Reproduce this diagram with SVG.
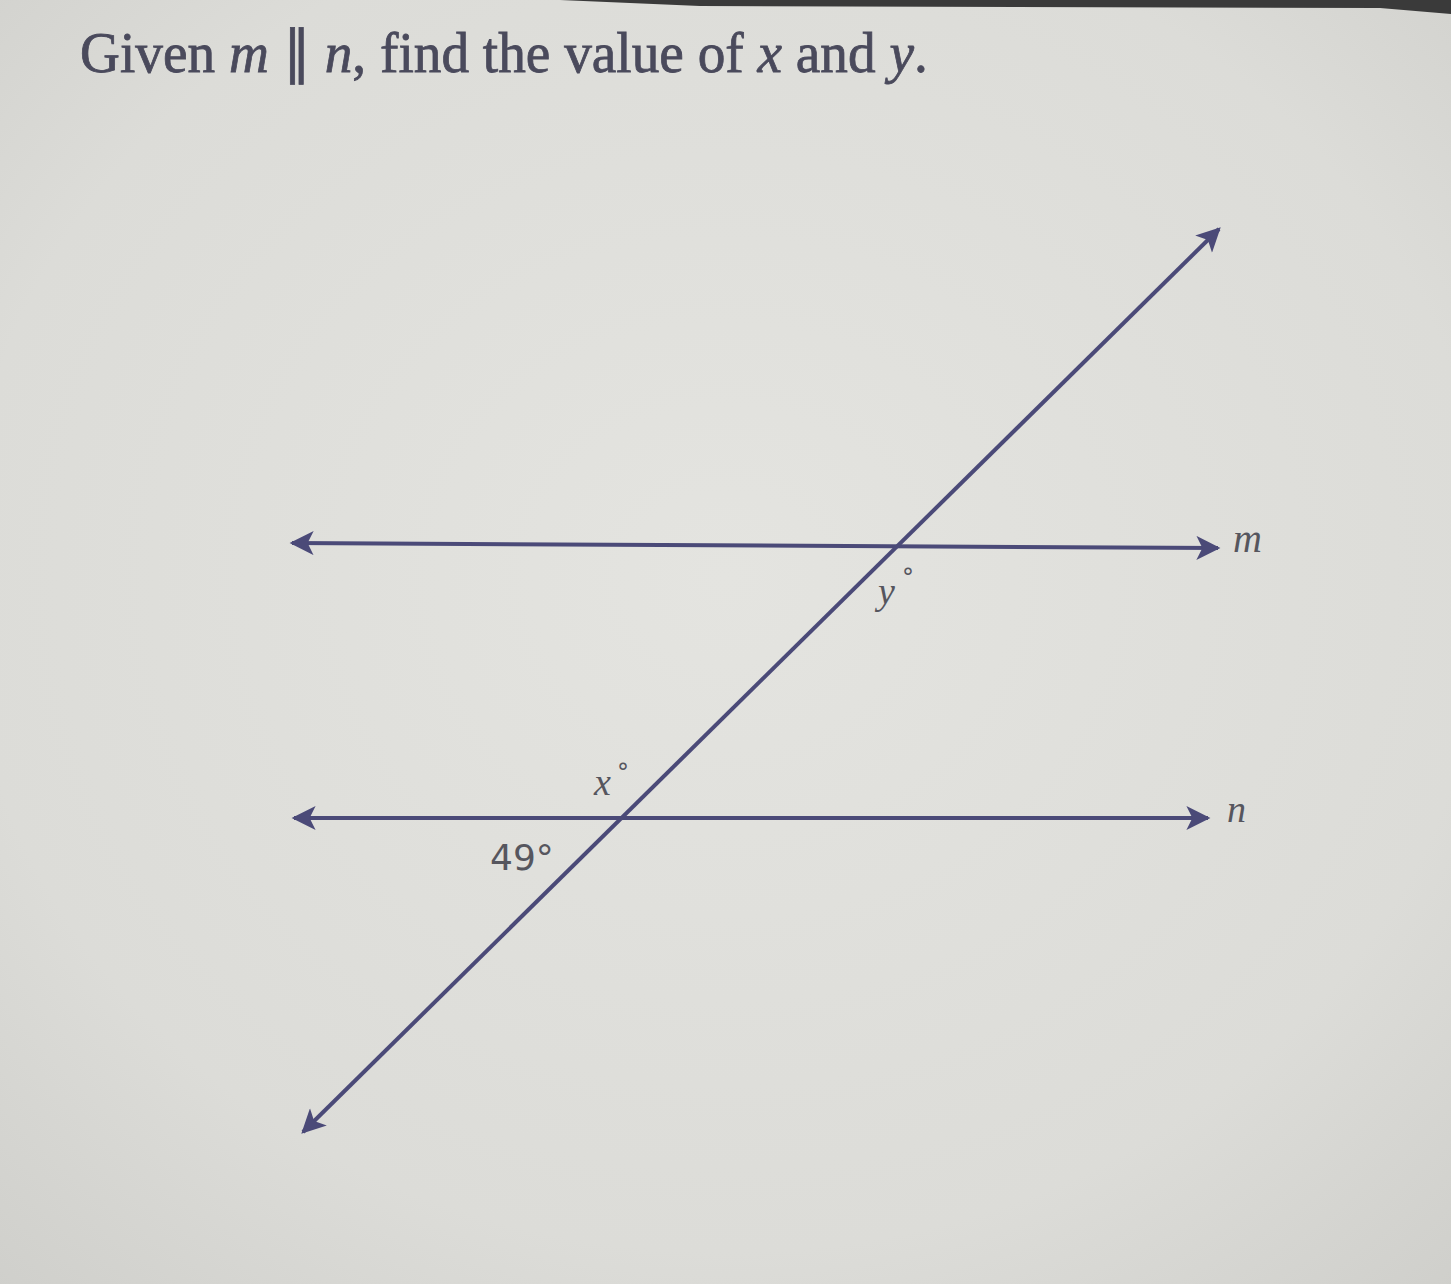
<svg xmlns="http://www.w3.org/2000/svg" width="1451" height="1284" viewBox="0 0 1451 1284">
<style>
.ln{stroke:#4b4a78;stroke-width:4;fill:none}
.lbl{font-family:"Liberation Serif",serif;font-style:italic;fill:#56565e}
.num{font-family:"DejaVu Sans","Liberation Sans",sans-serif;fill:#56565e}
.title{font-family:"Liberation Serif",serif;fill:#4a4a5c;stroke:#4a4a5c;stroke-width:0.8}
</style>
<defs>
<radialGradient id="bg" cx="0.5" cy="0.45" r="0.75">
<stop offset="0" stop-color="#e4e4e0"/>
<stop offset="0.7" stop-color="#dcdcd8"/>
<stop offset="1" stop-color="#cfcfcb"/>
</radialGradient>
<marker id="ah" viewBox="0 0 10 10" refX="9" refY="5" markerWidth="7" markerHeight="6" markerUnits="strokeWidth" orient="auto-start-reverse">
<path d="M0,0 L10,5 L0,10 L2.5,5 Z" fill="#4b4a78"/>
</marker>
</defs>
<rect width="1451" height="1284" fill="url(#bg)"/>
<path d="M560,0 L1451,0 L1451,14 L1380,8 L700,6 Z" fill="#3a3a3a"/>
<g id="title"><text class="title" transform="translate(80,72) scale(0.953,1)" x="0" y="0" font-size="58">Given <tspan font-style="italic">m</tspan> ∥ <tspan font-style="italic">n</tspan>, find the value of <tspan font-style="italic">x</tspan> and <tspan font-style="italic">y</tspan>.</text></g>
<g id="connectors">
<line id="line-m" class="ln" x1="292" y1="543" x2="1218" y2="548" marker-start="url(#ah)" marker-end="url(#ah)"/>
<line id="line-n" class="ln" x1="294" y1="818" x2="1208" y2="818" marker-start="url(#ah)" marker-end="url(#ah)"/>
<line id="transversal" class="ln" x1="303" y1="1132" x2="1219" y2="229" marker-start="url(#ah)" marker-end="url(#ah)"/>
</g>
<g id="label-m"><text class="lbl" x="1233" y="552" font-size="40">m</text></g>
<g id="label-n"><text class="lbl" x="1227" y="822" font-size="38">n</text></g>
<g id="label-y"><text class="lbl" x="878" y="604" font-size="38">y</text><text class="num" x="902" y="586" font-size="24">°</text></g>
<g id="label-x"><text class="lbl" x="594" y="795" font-size="38">x</text><text class="num" x="617" y="781" font-size="24">°</text></g>
<g id="label-49"><text class="num" x="490" y="870" font-size="36">49°</text></g>
</svg>
